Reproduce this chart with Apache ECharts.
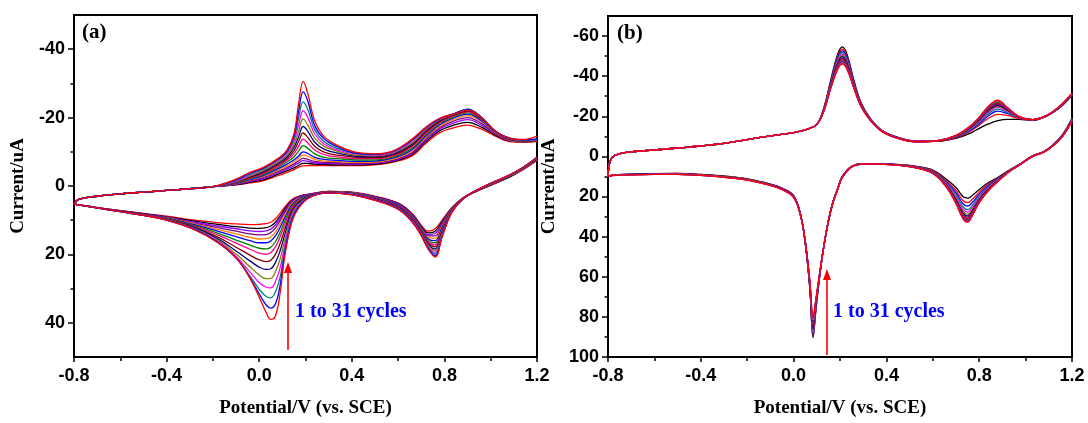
<!DOCTYPE html>
<html>
<head>
<meta charset="utf-8">
<script src="https://cdn.jsdelivr.net/npm/echarts@6/dist/echarts.min.js"></script>
<style>html,body{margin:0;padding:0;background:#fff}#c{width:1088px;height:423px}</style>
</head>
<body>
<div id="c"></div>
<script>
// ---------- Panel (a) ----------
const potA_fwd = [-0.8,-0.78,-0.7,-0.6,-0.5,-0.4,-0.3,-0.2,-0.1,-0.04,0.02,0.08,0.12,0.15,0.17,0.19,0.21,0.24,0.28,0.34,0.42,0.5,0.58,0.66,0.72,0.78,0.84,0.9,0.96,1.02,1.08,1.14,1.2];
const curA_fwdCommon = [5.3,3.9,3.0,2.3,1.8,1.3,0.8,0.2];
const curA_fwd = [
 [-0.3,-0.9,-1.6,-3.0,-4.0,-4.8,-5.5,-5.9,-6.0,-6.0,-6.0,-6.0,-6.0,-6.2,-7.0,-8.8,-12.5,-15.6,-17.0,-17.8,-16.6,-14.6,-13.0,-12.8,-13.0],
 [-0.4,-1.1,-1.9,-3.4,-4.5,-5.3,-6.0,-6.6,-6.6,-6.4,-6.3,-6.2,-6.2,-6.4,-7.2,-9.2,-13.0,-16.2,-17.8,-18.6,-17.2,-14.9,-13.2,-12.9,-13.1],
 [-0.5,-1.3,-2.2,-3.8,-5.0,-5.9,-6.7,-7.4,-7.2,-6.8,-6.6,-6.5,-6.4,-6.6,-7.4,-9.5,-13.4,-16.7,-18.4,-19.4,-17.8,-15.2,-13.3,-13.0,-13.1],
 [-0.6,-1.5,-2.5,-4.2,-5.4,-6.4,-7.3,-8.1,-7.8,-7.2,-6.9,-6.8,-6.6,-6.8,-7.6,-9.8,-13.8,-17.1,-19.0,-20.0,-18.3,-15.4,-13.4,-13.0,-13.1],
 [-0.7,-1.7,-2.8,-4.6,-5.9,-7.0,-8.1,-9.1,-8.7,-7.8,-7.3,-7.1,-6.9,-7.0,-7.9,-10.2,-14.2,-17.5,-19.5,-20.6,-18.8,-15.6,-13.5,-13.0,-13.1],
 [-0.8,-1.9,-3.1,-5.0,-6.4,-7.6,-8.8,-10.0,-9.5,-8.4,-7.8,-7.5,-7.2,-7.3,-8.2,-10.6,-14.6,-17.9,-19.9,-21.0,-19.1,-15.8,-13.6,-13.1,-13.2],
 [-0.9,-2.1,-3.4,-5.4,-7.0,-8.5,-10.2,-11.8,-11.0,-9.4,-8.4,-8.0,-7.6,-7.6,-8.5,-11.0,-15.0,-18.3,-20.2,-21.4,-19.4,-15.9,-13.7,-13.1,-13.2],
 [-1.0,-2.3,-3.7,-5.8,-7.5,-9.4,-11.6,-13.7,-12.6,-10.5,-9.2,-8.5,-8.0,-8.0,-8.8,-11.4,-15.4,-18.6,-20.5,-21.7,-19.6,-16.0,-13.8,-13.2,-13.3],
 [-1.1,-2.5,-4.0,-6.2,-8.0,-10.3,-13.0,-15.5,-14.2,-11.6,-9.9,-9.0,-8.4,-8.3,-9.1,-11.8,-15.8,-18.9,-20.7,-21.9,-19.8,-16.0,-13.8,-13.2,-13.3],
 [-1.2,-2.7,-4.3,-6.6,-8.5,-11.2,-14.4,-17.4,-16.0,-12.8,-10.8,-9.6,-8.7,-8.6,-9.4,-12.2,-16.2,-19.2,-20.9,-22.1,-19.9,-16.0,-13.9,-13.3,-13.4],
 [-1.3,-2.9,-4.6,-7.0,-9.0,-12.1,-16.0,-19.6,-17.8,-14.0,-11.6,-10.1,-9.0,-8.8,-9.7,-12.6,-16.5,-19.4,-21.0,-22.3,-20.0,-16.0,-13.9,-13.3,-13.4],
 [-1.5,-3.2,-5.0,-7.4,-9.5,-13.0,-17.8,-22.0,-20.0,-15.2,-12.3,-10.5,-9.3,-9.0,-9.9,-13.0,-16.8,-19.6,-21.1,-22.4,-20.1,-16.0,-14.0,-13.4,-13.5],
 [-1.7,-3.5,-5.1,-7.6,-9.9,-13.8,-19.8,-24.6,-22.4,-16.4,-13.0,-10.9,-9.5,-9.2,-10.1,-13.3,-17.0,-19.7,-21.1,-22.5,-20.1,-16.0,-14.0,-13.4,-13.6],
 [-1.8,-3.8,-5.3,-7.8,-10.2,-14.5,-21.8,-27.5,-24.8,-17.6,-13.8,-11.4,-9.6,-9.3,-10.2,-13.5,-17.1,-19.7,-21.0,-22.4,-20.0,-16.0,-14.0,-13.5,-13.8],
 [-2.0,-4.0,-5.5,-8.0,-10.5,-15.2,-24.0,-30.6,-27.0,-19.0,-14.5,-11.8,-9.8,-9.4,-10.3,-13.7,-17.2,-19.8,-21.0,-22.2,-20.0,-16.0,-14.0,-13.6,-14.6]
];
const potA_rev = [1.2,1.14,1.08,1.0,0.94,0.88,0.83,0.79,0.76,0.73,0.7,0.66,0.6,0.5,0.4,0.3,0.22,0.17,0.14,0.11,0.09,0.07,0.05,0.03,0.0,-0.04,-0.1,-0.18,-0.28,-0.4,-0.5,-0.6,-0.7,-0.8];
const curA_rev = [
 [-7.5,-4.8,-2.6,-0.2,1.5,3.5,6.5,10.0,12.5,13.2,11.5,8.0,5.0,3.0,1.8,1.6, 2.3,3.0,4.0,6.2,8.0,9.6,10.6,11.0,11.2,11.3,11.1,10.7,10.0,8.8,8.0,7.2,6.3,5.3],
 [-7.6,-4.9,-2.6,-0.3,1.5,3.5,6.6,10.4,13.2,13.7,11.8,8.2,5.1,3.1,1.9,1.6, 2.4,3.1,4.3,6.8,8.8,10.6,11.7,12.2,12.4,12.3,11.9,11.2,10.3,9.0,8.1,7.2,6.3,5.3],
 [-7.6,-4.9,-2.7,-0.3,1.5,3.5,6.7,10.8,13.9,14.2,12.1,8.4,5.2,3.2,1.9,1.7, 2.4,3.2,4.5,7.3,9.5,11.4,12.6,13.1,13.3,13.1,12.5,11.7,10.6,9.1,8.2,7.3,6.3,5.3],
 [-7.7,-5.0,-2.7,-0.4,1.4,3.6,6.8,11.3,14.6,14.6,12.3,8.6,5.4,3.3,2.0,1.7, 2.5,3.4,4.8,7.8,10.2,12.3,13.6,14.2,14.3,14.0,13.2,12.2,10.9,9.2,8.2,7.3,6.3,5.3],
 [-7.7,-5.0,-2.8,-0.4,1.4,3.6,6.9,11.7,15.3,15.1,12.6,8.8,5.5,3.4,2.0,1.7, 2.6,3.6,5.2,8.6,11.2,13.5,14.9,15.4,15.5,15.0,14.0,12.7,11.1,9.3,8.3,7.3,6.3,5.3],
 [-7.8,-5.1,-2.8,-0.4,1.4,3.6,7.0,12.1,16.0,15.5,12.8,9.0,5.6,3.5,2.1,1.8, 2.6,3.8,5.6,9.4,12.2,14.6,16.1,16.6,16.6,16.0,14.8,13.2,11.3,9.4,8.3,7.3,6.4,5.3],
 [-7.8,-5.1,-2.8,-0.5,1.4,3.6,7.1,12.5,16.6,15.9,13.0,9.2,5.8,3.6,2.1,1.8, 2.7,4.1,6.1,10.4,13.6,16.3,17.9,18.4,18.2,17.3,15.8,13.8,11.6,9.5,8.4,7.4,6.4,5.3],
 [-7.9,-5.2,-2.9,-0.5,1.3,3.7,7.2,12.9,17.2,16.3,13.3,9.4,5.9,3.7,2.2,1.8, 2.8,4.4,6.6,11.4,14.9,17.8,19.5,19.9,19.6,18.5,16.7,14.3,11.8,9.6,8.4,7.4,6.4,5.3],
 [-7.9,-5.2,-2.9,-0.5,1.3,3.7,7.3,13.3,17.8,16.7,13.5,9.6,6.1,3.8,2.3,1.8, 2.9,4.7,7.2,12.8,16.9,20.0,21.7,22.1,21.6,20.2,17.9,14.9,12.0,9.7,8.5,7.4,6.4,5.3],
 [-8.0,-5.3,-3.0,-0.6,1.3,3.7,7.4,13.6,18.4,17.1,13.7,9.8,6.2,3.9,2.3,1.9, 2.9,5.0,7.8,14.3,19.0,22.4,24.2,24.4,23.7,21.9,19.0,15.4,12.2,9.8,8.5,7.4,6.4,5.3],
 [-8.1,-5.3,-3.0,-0.6,1.3,3.7,7.5,13.9,18.9,17.4,13.9,10.0,6.4,4.0,2.4,1.9, 3.0,5.3,8.4,15.9,21.4,25.1,27.0,27.1,26.0,23.6,19.9,15.8,12.4,9.8,8.5,7.5,6.4,5.3],
 [-8.2,-5.4,-3.1,-0.7,1.2,3.7,7.6,14.2,19.4,17.7,14.1,10.1,6.5,4.0,2.4,1.9, 3.1,5.6,9.0,17.5,24.0,27.9,29.8,29.6,28.2,25.2,20.6,16.1,12.5,9.9,8.6,7.5,6.4,5.3],
 [-8.3,-5.4,-3.1,-0.7,1.2,3.8,7.7,14.5,19.9,18.0,14.3,10.3,6.6,4.1,2.5,2.0, 3.1,5.9,9.6,18.9,26.8,31.0,32.7,32.3,30.2,26.3,21.0,16.3,12.6,9.9,8.6,7.5,6.4,5.3],
 [-8.4,-5.5,-3.2,-0.8,1.2,3.8,7.9,14.8,20.4,18.3,14.4,10.4,6.7,4.1,2.5,2.0, 3.2,6.2,10.2,19.9,29.2,34.5,35.7,34.8,31.5,26.8,21.0,16.4,12.7,10.0,8.6,7.5,6.4,5.3],
 [-8.5,-5.5,-3.2,-0.8,1.2,3.8,8.0,15.0,20.8,18.5,14.5,10.5,6.8,4.2,2.6,2.0, 3.3,6.5,10.8,20.8,31.5,38.0,39.0,37.0,32.5,27.0,21.0,16.5,12.8,10.0,8.6,7.5,6.4,5.3]
];
const colorsA = ['#ff0000','#000000','#8b00ff','#800080','#ff8000','#0000ff','#008000','#ff0080','#800000','#000080','#808000','#ff00ff','#008080','#0000ff','#ff0000'];

// ---------- Panel (b) ----------
const potB_fwd = [-0.8,-0.79,-0.77,-0.72,-0.6,-0.5,-0.4,-0.3,-0.2,-0.1,0.0,0.06,0.1,0.13,0.16,0.19,0.21,0.23,0.26,0.29,0.33,0.38,0.45,0.53,0.62,0.7,0.76,0.8,0.84,0.88,0.92,0.97,1.03,1.08,1.12,1.16,1.2];
const curB_fwdCommon = [10,2,-0.5,-2.0,-3.2,-4.2,-5.2,-6.5,-8.4,-10.2,-11.9,-13.6,-16.0];
const curB_fwd = [
 [-24.0,-38.0,-51.0,-54.6,-51.0,-38.0,-27.0,-19.0,-13.0, -9.5,-7.6,-7.6,-9.0,-11.5,-14.0,-16.2,-17.8,-18.5,-18.5,-18.0,-19.5,-22.0,-25.5,-30.5],
 [-23.8,-37.3,-50.0,-53.5,-50.0,-37.3,-26.7,-18.9,-13.0, -9.4,-7.6,-7.6,-9.3,-12.4,-15.6,-19.0,-21.0,-20.5,-19.0,-18.1,-19.6,-22.1,-25.7,-30.6],
 [-23.6,-36.8,-49.2,-52.6,-49.2,-36.8,-26.4,-18.8,-12.9, -9.4,-7.5,-7.6,-9.5,-12.9,-16.4,-20.3,-22.6,-21.4,-19.3,-18.1,-19.6,-22.1,-25.8,-30.7],
 [-23.5,-36.3,-48.4,-51.8,-48.4,-36.3,-26.2,-18.7,-12.9, -9.3,-7.5,-7.7,-9.7,-13.3,-17.0,-21.2,-23.6,-22.0,-19.4,-18.1,-19.6,-22.2,-25.9,-30.8],
 [-23.4,-35.8,-47.7,-51.0,-47.7,-35.8,-26.0,-18.6,-12.9, -9.3,-7.5,-7.7,-9.8,-13.6,-17.5,-21.9,-24.4,-22.5,-19.5,-18.2,-19.7,-22.2,-26.0,-30.9],
 [-23.3,-35.4,-47.0,-50.3,-47.0,-35.4,-25.9,-18.5,-12.8, -9.2,-7.4,-7.7,-9.9,-13.9,-17.9,-22.4,-25.0,-22.9,-19.6,-18.2,-19.7,-22.3,-26.0,-31.0],
 [-23.2,-35.1,-46.5,-49.7,-46.5,-35.1,-25.7,-18.4,-12.8, -9.2,-7.4,-7.7,-10.0,-14.1,-18.2,-22.9,-25.5,-23.2,-19.7,-18.2,-19.7,-22.3,-26.1,-31.0],
 [-23.1,-34.8,-45.9,-49.1,-45.9,-34.8,-25.6,-18.4,-12.8, -9.2,-7.4,-7.7,-10.1,-14.3,-18.5,-23.3,-26.0,-23.5,-19.7,-18.2,-19.7,-22.3,-26.1,-31.1],
 [-23.0,-34.6,-45.4,-48.6,-45.4,-34.6,-25.5,-18.3,-12.7, -9.1,-7.4,-7.7,-10.2,-14.5,-18.8,-23.7,-26.4,-23.7,-19.8,-18.2,-19.7,-22.4,-26.2,-31.1],
 [-22.9,-34.5,-44.9,-48.1,-44.9,-34.5,-25.4,-18.3,-12.7, -9.1,-7.4,-7.8,-10.3,-14.6,-19.0,-24.0,-26.8,-23.9,-19.8,-18.3,-19.8,-22.4,-26.2,-31.2],
 [-22.8,-34.4,-44.5,-47.6,-44.5,-34.4,-25.3,-18.2,-12.7, -9.1,-7.3,-7.8,-10.3,-14.7,-19.2,-24.3,-27.1,-24.1,-19.9,-18.3,-19.8,-22.4,-26.3,-31.2],
 [-22.7,-34.3,-44.1,-47.2,-44.1,-34.3,-25.2,-18.2,-12.6, -9.0,-7.3,-7.8,-10.4,-14.8,-19.3,-24.5,-27.4,-24.2,-19.9,-18.3,-19.8,-22.5,-26.3,-31.3],
 [-22.6,-34.2,-43.8,-46.8,-43.8,-34.2,-25.1,-18.1,-12.6, -9.0,-7.3,-7.8,-10.4,-14.9,-19.4,-24.7,-27.6,-24.3,-20.0,-18.3,-19.8,-22.5,-26.4,-31.4],
 [-22.5,-34.1,-43.6,-46.4,-43.6,-34.1,-25.0,-18.1,-12.5, -9.0,-7.3,-7.8,-10.5,-15.0,-19.5,-24.9,-27.8,-24.4,-20.0,-18.3,-19.8,-22.5,-26.4,-31.4],
 [-22.5,-34.0,-43.5,-46.0,-43.5,-34.0,-25.0,-18.0,-12.5, -9.0,-7.3,-7.8,-10.5,-15.0,-19.5,-25.0,-28.0,-24.5,-20.0,-18.3,-19.8,-22.5,-26.5,-31.5]
];
const potB_rev = [1.2,1.16,1.12,1.08,1.03,0.98,0.93,0.88,0.84,0.8,0.77,0.75,0.73,0.7,0.66,0.6,0.52,0.44,0.36,0.3,0.25,0.21,0.19,0.17,0.15,0.13,0.11,0.095,0.084,0.07,0.05,0.03,0.0,-0.05,-0.1,-0.2,-0.3,-0.4,-0.5,-0.6,-0.7,-0.78,-0.8];
const curB_rev = [
 [-19.0,-11.0,-6.0,-2.5,-0.3,3.5,6.8,10.5,13.0,16.5,19.5,20.8,20.0,15.5,11.5,6.8,4.8,4.0,3.6,3.6,5.0, 10.0,16.0,22.5,32.0,45.0,62.0,78.0,90.3,66.0,43.0,29.0,19.5,15.8,13.8,11.2,9.8,9.0,8.5,8.6,8.9,9.3,10.0],
 [-18.9,-10.9,-5.9,-2.5,-0.3,3.5,6.9,10.9,13.8,17.8,21.4,23.0,22.0,17.0,12.3,7.1,4.9,4.0,3.6,3.6,5.0, 10.0,16.0,22.5,32.0,45.0,61.9,77.5,89.5,65.7,43.0,29.0,19.6,15.9,13.9,11.2,9.8,9.0,8.5,8.6,8.9,9.3,10.0],
 [-18.8,-10.8,-5.9,-2.4,-0.2,3.6,7.0,11.2,14.5,18.8,23.0,24.8,23.6,18.2,13.0,7.4,5.0,4.1,3.7,3.6,5.0, 10.0,16.0,22.5,32.0,45.0,61.7,77.0,88.8,65.4,42.9,29.1,19.7,15.9,13.9,11.3,9.9,9.1,8.6,8.6,8.9,9.3,10.0],
 [-18.6,-10.7,-5.8,-2.4,-0.2,3.6,7.1,11.5,15.1,19.7,24.5,26.5,25.1,19.3,13.5,7.6,5.1,4.1,3.7,3.7,5.1, 10.1,16.1,22.6,32.1,45.0,61.5,76.5,88.0,65.1,42.8,29.1,19.7,16.0,14.0,11.3,9.9,9.1,8.6,8.7,9.0,9.4,10.0],
 [-18.5,-10.6,-5.8,-2.4,-0.2,3.6,7.2,11.7,15.5,20.4,25.6,27.8,26.3,20.2,13.9,7.8,5.2,4.1,3.7,3.7,5.1, 10.1,16.1,22.6,32.1,45.0,61.4,76.0,87.3,64.8,42.7,29.2,19.8,16.0,14.0,11.4,10.0,9.2,8.7,8.7,9.0,9.4,10.0],
 [-18.4,-10.5,-5.7,-2.3,-0.1,3.7,7.3,11.9,15.8,21.0,26.5,28.8,27.3,20.9,14.3,7.9,5.2,4.2,3.7,3.7,5.1, 10.2,16.2,22.7,32.2,45.0,61.2,75.5,86.6,64.5,42.6,29.2,19.9,16.1,14.1,11.4,10.0,9.2,8.7,8.7,9.0,9.4,10.0],
 [-18.3,-10.5,-5.7,-2.3,-0.1,3.7,7.3,12.0,16.1,21.5,27.2,29.6,28.1,21.5,14.6,8.0,5.3,4.2,3.7,3.7,5.1, 10.2,16.2,22.7,32.2,45.0,61.1,75.0,85.9,64.2,42.5,29.3,19.9,16.1,14.1,11.5,10.0,9.2,8.7,8.8,9.0,9.4,10.0],
 [-18.2,-10.4,-5.7,-2.3,-0.1,3.7,7.4,12.1,16.3,21.9,27.8,30.3,28.7,22.0,14.8,8.1,5.3,4.2,3.7,3.7,5.1, 10.2,16.2,22.7,32.3,45.0,60.9,74.6,85.2,63.9,42.5,29.3,20.0,16.2,14.2,11.5,10.1,9.3,8.8,8.8,9.1,9.4,10.0],
 [-18.1,-10.4,-5.6,-2.3,-0.1,3.7,7.4,12.2,16.5,22.3,28.3,30.9,29.3,22.4,15.0,8.2,5.4,4.2,3.8,3.7,5.1, 10.3,16.3,22.8,32.3,45.0,60.8,74.2,84.5,63.6,42.4,29.3,20.0,16.2,14.2,11.5,10.1,9.3,8.8,8.8,9.1,9.5,10.0],
 [-18.0,-10.3,-5.6,-2.3,-0.1,3.7,7.4,12.3,16.6,22.5,28.7,31.4,29.8,22.7,15.1,8.3,5.4,4.3,3.8,3.8,5.2, 10.3,16.3,22.8,32.3,45.0,60.6,73.8,83.8,63.3,42.3,29.4,20.1,16.3,14.3,11.6,10.2,9.3,8.8,8.9,9.1,9.5,10.0],
 [-17.9,-10.2,-5.6,-2.3,0.0,3.8,7.4,12.3,16.7,22.7,29.0,31.8,30.2,23.0,15.2,8.3,5.4,4.3,3.8,3.8,5.2, 10.3,16.3,22.8,32.4,45.0,60.5,73.4,83.0,63.0,42.3,29.4,20.2,16.4,14.3,11.6,10.2,9.4,8.9,8.9,9.1,9.5,10.0],
 [-17.8,-10.2,-5.6,-2.2,0.0,3.8,7.5,12.4,16.8,22.8,29.2,32.1,30.5,23.2,15.3,8.4,5.5,4.3,3.8,3.8,5.2, 10.4,16.4,22.9,32.4,45.0,60.4,73.0,82.3,62.7,42.2,29.4,20.2,16.4,14.4,11.7,10.3,9.4,8.9,8.9,9.1,9.5,10.0],
 [-17.7,-10.1,-5.5,-2.2,0.0,3.8,7.5,12.4,16.9,22.9,29.3,32.4,30.7,23.3,15.4,8.4,5.5,4.3,3.8,3.8,5.2, 10.4,16.4,22.9,32.4,45.0,60.3,72.6,81.6,62.5,42.2,29.5,20.3,16.5,14.4,11.7,10.3,9.4,8.9,9.0,9.2,9.5,10.0],
 [-17.6,-10.1,-5.5,-2.2,0.0,3.8,7.5,12.5,17.0,23.0,29.4,32.6,30.9,23.4,15.5,8.5,5.5,4.3,3.8,3.8,5.2, 10.5,16.5,23.0,32.5,45.0,60.1,72.3,80.8,62.2,42.1,29.5,20.4,16.5,14.5,11.8,10.4,9.5,9.0,9.0,9.2,9.6,10.0],
 [-17.5,-10.0,-5.5,-2.2,0.0,3.8,7.5,12.5,17.0,23.0,29.5,32.8,31.0,23.5,15.5,8.5,5.5,4.3,3.8,3.8,5.2, 10.5,16.5,23.0,32.5,45.0,60.0,72.0,80.0,62.0,42.0,29.5,20.5,16.6,14.5,11.8,10.4,9.5,9.0,9.0,9.2,9.6,10.0]
];
const colorsB = ['#000000','#ff0000','#0000ff','#008080','#ff00ff','#808000','#000080','#800080','#800000','#ff0080','#008000','#0000ff','#ff8000','#8b00ff','#ff0000'];

// ---------- Axis tick labels ----------
const xTicks = [-0.8,-0.4,0.0,0.4,0.8,1.2];
const yTicksA = [-40,-20,0,20,40];
const yMinorA = [-30,-10,10,30];
const yTicksB = [-60,-40,-20,0,20,40,60,80,100];
const yMinorB = [-50,-30,-10,10,30,50,70,90];

const chart = echarts.init(document.getElementById('c'), null, {renderer:'canvas'});
const SANS = '"Liberation Sans", Arial, sans-serif';
const SERIF = '"Liberation Serif", "Times New Roman", serif';

function xAxis(gi){
  return {
    type:'value', gridIndex:gi, min:-0.8, max:1.2, interval:0.4,
    axisLine:{show:true, onZero:false, lineStyle:{color:'#000', width:2}},
    axisTick:{show:true, inside:false, length:5, lineStyle:{color:'#000', width:1.5}},
    minorTick:{show:true, splitNumber:2, length:4, lineStyle:{color:'#000', width:1.5}},
    splitLine:{show:false}, minorSplitLine:{show:false},
    axisLabel:{color:'#000', fontFamily:SANS, fontWeight:'bold', fontSize:18, margin:10,
      formatter: v => xTicks.some(t => Math.abs(t - v) < 1e-6) ? v.toFixed(1) : ''},
    name:'Potential/V (vs. SCE)', nameLocation:'middle', nameGap:42,
    nameTextStyle:{color:'#000', fontFamily:SERIF, fontWeight:'bold', fontSize:19}
  };
}
function yAxisMain(gi, min, max, ticks, gap){
  return {
    type:'value', gridIndex:gi, min:min, max:max, inverse:true,
    axisLine:{show:true, onZero:false, lineStyle:{color:'#000', width:2}},
    axisTick:{show:true, length:6, customValues:ticks, lineStyle:{color:'#000', width:1.5}},
    splitLine:{show:false},
    axisLabel:{color:'#000', fontFamily:SANS, fontWeight:'bold', fontSize:18, margin:9, customValues:ticks,
      formatter: v => String(Math.round(v))},
    name:'Current/uA', nameLocation:'middle', nameGap:gap,
    nameTextStyle:{color:'#000', fontFamily:SERIF, fontWeight:'bold', fontSize:19}
  };
}
function yAxisMinor(gi, min, max, ticks){
  return {
    type:'value', gridIndex:gi, min:min, max:max, inverse:true, position:'left',
    axisLine:{show:false, onZero:false}, splitLine:{show:false},
    axisTick:{show:true, length:3.5, customValues:ticks, lineStyle:{color:'#000', width:1.5}},
    axisLabel:{show:false}
  };
}

const series = [];
function addLines(pots, rows, common, colors, xi, yi, revPots, revRows){
  rows.forEach((row, k) => {
    const vals = common.concat(row);
    series.push({type:'line', xAxisIndex:xi, yAxisIndex:yi, data:pots.map((p,i)=>[p, vals[i]]),
      showSymbol:false, smooth:0.4, silent:true, animation:false,
      lineStyle:{color:colors[k], width:1.3}});
    const rv = revRows[k];
    series.push({type:'line', xAxisIndex:xi, yAxisIndex:yi, data:revPots.map((p,i)=>[p, rv[i]]),
      showSymbol:false, smooth:0.4, silent:true, animation:false,
      lineStyle:{color:colors[k], width:1.3}});
  });
}
addLines(potA_fwd, curA_fwd, curA_fwdCommon, colorsA, 0, 0, potA_rev, curA_rev);
addLines(potB_fwd, curB_fwd, curB_fwdCommon, colorsB, 1, 2, potB_rev, curB_rev);

chart.setOption({
  animation:false,
  backgroundColor:'#fff',
  grid:[
    {left:74, top:15, width:463, height:343, show:true, borderColor:'#000', borderWidth:2, backgroundColor:'transparent'},
    {left:608, top:16, width:464, height:344, show:true, borderColor:'#000', borderWidth:2, backgroundColor:'transparent'}
  ],
  xAxis:[xAxis(0), xAxis(1)],
  yAxis:[yAxisMain(0,-50,50,yTicksA,46), yAxisMinor(0,-50,50,yMinorA), yAxisMain(1,-70,100,yTicksB,49), yAxisMinor(1,-70,100,yMinorB)],
  series: series,
  graphic:[
    {type:'text', x:82, y:22, style:{text:'(a)', font:'bold 21px ' + SERIF, fill:'#000'}},
    {type:'text', x:617, y:23, style:{text:'(b)', font:'bold 21px ' + SERIF, fill:'#000'}},
    {type:'line', shape:{x1:288, y1:350, x2:288, y2:270}, style:{stroke:'#ff0000', lineWidth:1.6}},
    {type:'polygon', shape:{points:[[284,273],[292,273],[288,262]]}, style:{fill:'#ff0000'}},
    {type:'line', shape:{x1:827, y1:355, x2:827, y2:277}, style:{stroke:'#ff0000', lineWidth:1.6}},
    {type:'polygon', shape:{points:[[823,280],[831,280],[827,269]]}, style:{fill:'#ff0000'}},
    {type:'text', x:295, y:312, style:{text:'1 to 31 cycles', font:'bold 20px ' + SERIF, fill:'#0000ff', verticalAlign:'middle'}},
    {type:'text', x:833, y:312, style:{text:'1 to 31 cycles', font:'bold 20px ' + SERIF, fill:'#0000ff', verticalAlign:'middle'}}
  ]
});
</script>
</body>
</html>
